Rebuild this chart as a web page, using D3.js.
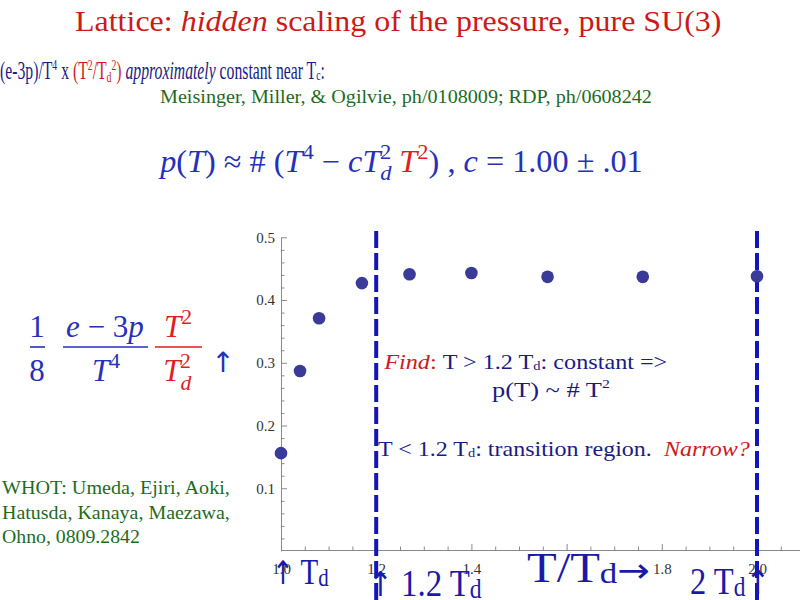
<!DOCTYPE html>
<html><head><meta charset="utf-8">
<script src="https://cdn.jsdelivr.net/npm/d3@7/dist/d3.min.js"></script>
<style>body{margin:0;background:#fff}svg{display:block}text{white-space:pre}</style>
</head><body>
<script>
// ---- data ----
const tOverTd = [1.0, 1.04, 1.08, 1.17, 1.27, 1.40, 1.56, 1.76, 2.0];
const scaledTraceAnomaly = [0.156, 0.287, 0.371, 0.427, 0.441, 0.443, 0.437, 0.437, 0.438];
const xMajorTicks = [1.0, 1.2, 1.4, 1.6, 1.8, 2.0];
const xTickLabels = ["1.0", "1.2", "1.4", "", "1.8", "2.0"];
const yMajorTicks = [0.1, 0.2, 0.3, 0.4, 0.5];
const yTickLabels = ["0.1", "0.2", "0.3", "0.4", "0.5"];
const markerLines = [1.2, 2.0];

const W = 800, H = 600;
const BLUE = "#1b1b86", RED = "#cc1a1a", GREEN = "#1e6b1e", MATHBLUE = "#2630b8", MATHRED = "#e01e1e";
const SERIF = "Liberation Serif";
const BASE = 20;

const svg = d3.select("body").append("svg").attr("width", W).attr("height", H);
svg.append("rect").attr("width", W).attr("height", H).attr("fill", "#fff");

const x = d3.scaleLinear().domain([1.0, 2.1]).range([281, 804.6]);
const y = d3.scaleLinear().domain([0, 0.5]).range([551, 237.3]);

const xMinor = d3.range(1.0, 2.101, 0.05).filter(v => !xMajorTicks.some(m => Math.abs(m - v) < 1e-6));
const yMinor = d3.range(0.02, 0.501, 0.02).filter(v => !yMajorTicks.some(m => Math.abs(m - v) < 1e-6));

const axisColor = "#8a8a8a";
const gx = svg.append("g").attr("transform", "translate(0,550)");
gx.call(d3.axisBottom(x).tickValues(xMajorTicks).tickSizeInner(-6).tickSizeOuter(0).tickPadding(13)
  .tickFormat((d, i) => xTickLabels[i]));
const gxm = svg.append("g").attr("transform", "translate(0,550)");
gxm.call(d3.axisBottom(x).tickValues(xMinor).tickSizeInner(-3.5).tickSizeOuter(0).tickFormat(""));
gxm.select(".domain").remove();

const gy = svg.append("g").attr("transform", "translate(281,0)");
gy.call(d3.axisLeft(y).tickValues(yMajorTicks).tickSizeInner(-6).tickSizeOuter(0).tickPadding(6)
  .tickFormat((d, i) => yTickLabels[i]));
const gym = svg.append("g").attr("transform", "translate(281,0)");
gym.call(d3.axisLeft(y).tickValues(yMinor).tickSizeInner(-3.5).tickSizeOuter(0).tickFormat(""));
gym.select(".domain").remove();

[gx, gxm, gy, gym].forEach(g => {
  g.attr("font-family", null).attr("font-size", null);
  g.selectAll("path,line").attr("stroke", axisColor).attr("stroke-width", 1);
  g.selectAll("text").style("font-family", SERIF).style("font-size", "15px").attr("fill", "#333");
});

svg.append("g").selectAll("line").data(markerLines).join("line")
  .attr("x1", d => x(d)).attr("x2", d => x(d)).attr("y1", 231).attr("y2", 600)
  .attr("stroke", "#1414bb").attr("stroke-width", 4).attr("stroke-dasharray", "17,5");

svg.append("g").selectAll("circle").data(tOverTd).join("circle")
  .attr("cx", d => x(d)).attr("cy", (d, i) => y(scaledTraceAnomaly[i])).attr("r", 6.3)
  .attr("fill", "#3a3a98");

// ---- rich text helper ----
function rich(x0, y0, segs, size, width, family) {
  const fam = family || SERIF;
  const b = Math.min(size, BASE);
  const k = size / b;
  const g = svg.append("g");
  const t = g.append("text").attr("x", 0).attr("y", 0)
    .style("font-family", fam).style("font-size", b + "px");
  let prev = 0;
  segs.forEach(s => {
    const sh = s.sh || 0;
    const ts = t.append("tspan").text(s.t)
      .attr("fill", s.c || BLUE)
      .style("font-size", (b * (s.s || 1)) + "px")
      .style("font-family", s.f || fam)
      .attr("dy", -(sh - prev) * b);
    if (s.i) ts.style("font-style", "italic");
    if (s.dx) ts.attr("dx", s.dx * b);
    prev = sh;
  });
  const bb = t.node().getBBox();
  const sx = width ? width / bb.width : k;
  g.attr("transform", `translate(${x0 - bb.x * sx},${y0}) scale(${sx},${k})`);
  g.datum({bb, sx, k});
  return g;
}

// Title
rich(75, 31, [
  {t: "Lattice: ", c: RED}, {t: "hidden", c: RED, i: 1}, {t: " scaling of the pressure, pure SU(3)", c: RED}
], 29, 647);

rich(0, 79, [
  {t: "(e-3p)/T"}, {t: "4", s: 0.62, sh: 0.38}, {t: " x ", sh: 0},
  {t: "(T", c: RED}, {t: "2", c: RED, s: 0.62, sh: 0.38}, {t: "/T", c: RED, sh: 0},
  {t: "d", c: RED, s: 0.62, sh: -0.1}, {t: "2", c: RED, s: 0.62, sh: 0.38}, {t: ")", c: RED, sh: 0},
  {t: " "}, {t: "approximately", i: 1}, {t: " constant near T"}, {t: "c", s: 0.62, sh: -0.05}, {t: ":", sh: 0}
], 25, 325);

rich(160, 103, [{t: "Meisinger, Miller, & Ogilvie, ph/0108009; RDP, ph/0608242", c: GREEN}], 19, 492);

// Top formula
rich(157, 172, [
  {t: "p", i: 1, c: MATHBLUE}, {t: "(", c: MATHBLUE}, {t: "T", i: 1, c: MATHBLUE}, {t: ") \u2248 # (", c: MATHBLUE},
  {t: "T", i: 1, c: MATHBLUE}, {t: "4", s: 0.7, sh: 0.42, c: MATHBLUE}, {t: " \u2212 ", sh: 0, c: MATHBLUE},
  {t: "c", i: 1, c: MATHBLUE}, {t: "T", i: 1, c: MATHBLUE},
  {t: "d", i: 1, s: 0.7, sh: -0.25, c: MATHBLUE}, {t: "2", s: 0.7, sh: 0.42, dx: -0.36, c: MATHBLUE},
  {t: " ", sh: 0, c: MATHBLUE}, {t: "T", i: 1, c: MATHRED}, {t: "2", s: 0.7, sh: 0.42, c: MATHRED},
  {t: ") , ", sh: 0, c: MATHBLUE}, {t: "c", i: 1, c: MATHBLUE}, {t: " = 1.00 \u00b1 .01", c: MATHBLUE}
], 31, 486);

// Left fraction formula
const FS = 31;
function ctext(cx, by, segs, size, fam) {
  const g = rich(0, by, segs, size, null, fam);
  const {bb, k} = g.datum();
  g.attr("transform", `translate(${cx - (bb.x + bb.width / 2) * k},${by}) scale(${k},${k})`);
}
ctext(37, 337, [{t: "1", c: MATHBLUE}], FS);
ctext(37, 381, [{t: "8", c: MATHBLUE}], FS);
ctext(105, 337, [{t: "e", i: 1, c: MATHBLUE}, {t: " \u2212 3", c: MATHBLUE}, {t: "p", i: 1, c: MATHBLUE}], FS);
ctext(106, 381, [{t: "T", i: 1, c: MATHBLUE}, {t: "4", s: 0.7, sh: 0.42, c: MATHBLUE}], FS);
ctext(178, 337, [{t: "T", i: 1, c: MATHRED}, {t: "2", s: 0.7, sh: 0.42, c: MATHRED}], FS);
ctext(178, 381, [{t: "T", i: 1, c: MATHRED}, {t: "d", i: 1, s: 0.7, sh: -0.3, c: MATHRED},
  {t: "2", s: 0.7, sh: 0.42, dx: -0.36, c: MATHRED}], FS);
const bars = [[30, 45, MATHBLUE], [63, 148, MATHBLUE], [155, 202, MATHRED]];
svg.append("g").selectAll("line").data(bars).join("line")
  .attr("x1", d => d[0]).attr("x2", d => d[1]).attr("y1", 347).attr("y2", 347)
  .attr("stroke", d => d[2]).attr("stroke-width", 1.6);
ctext(223, 372, [{t: "\u2191", c: MATHBLUE, f: "DejaVu Sans"}], 28);

// Find annotations
rich(383, 369, [{t: "Find", i: 1, c: RED}, {t: ": ", c: RED}, {t: "T > 1.2 T"}, {t: "d", s: 0.6, sh: -0.05},
  {t: ": constant =>", sh: 0}], 22, 284);
rich(492, 397, [{t: "p(T) ~ # T"}, {t: "2", s: 0.6, sh: 0.4}], 22, 118);
rich(378, 456, [{t: "T < 1.2 T"}, {t: "d", s: 0.6, sh: -0.05}, {t: ": transition region.  ", sh: 0},
  {t: "Narrow?", i: 1, c: RED}], 22, 372);

// WHOT reference
rich(2, 494, [{t: "WHOT: Umeda, Ejiri, Aoki,", c: GREEN}], 19, 228);
rich(2, 519, [{t: "Hatusda, Kanaya, Maezawa,", c: GREEN}], 19, 228);
rich(2, 543, [{t: "Ohno, 0809.2842", c: GREEN}], 19, 138);

// Bottom labels
const BB = "#1a1aa8";
rich(272, 584, [{t: "\u2191", c: BB, f: "DejaVu Sans", s: 0.9}, {t: " T", c: BB}, {t: "d", c: BB, s: 0.72, sh: -0.05}], 36, 58);
rich(368, 596, [{t: "\u2191", c: BB, f: "DejaVu Sans", s: 0.9}, {t: " 1.2 T", c: BB}, {t: "d", c: BB, s: 0.72, sh: -0.05}], 38, 115);
rich(527, 582, [{t: "T/T", c: BB}, {t: "d", c: BB, s: 0.72, sh: -0.02}, {t: "\u2192", c: BB, f: "DejaVu Sans", s: 0.8, sh: 0}], 42, 123);
rich(690, 594, [{t: "2 T", c: BB}, {t: "d", c: BB, s: 0.72, sh: -0.05}, {t: "\u2191", c: BB, f: "DejaVu Sans", s: 0.9, sh: 0}], 38, 80);
</script>
</body></html>
